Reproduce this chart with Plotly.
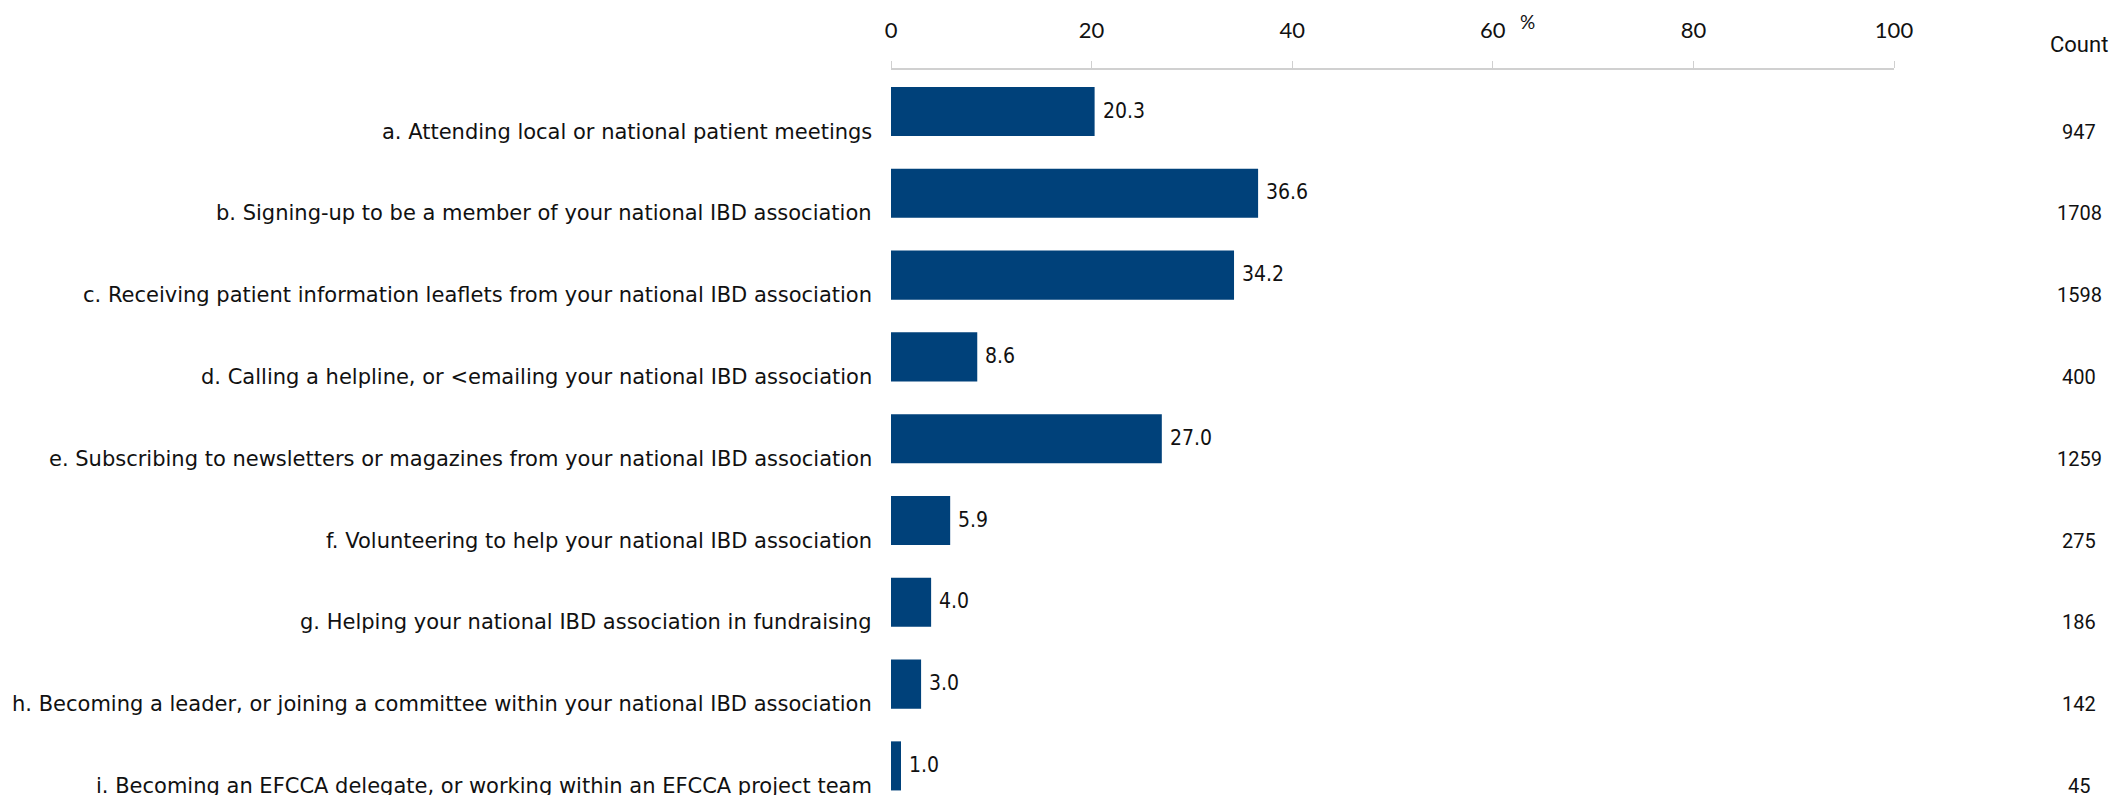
import plotly.graph_objects as go

categories = [
    "a. Attending local or national patient meetings",
    "b. Signing-up to be a member of your national IBD association",
    "c. Receiving patient information leaflets from your national IBD association",
    "d. Calling a helpline, or <emailing your national IBD association",
    "e. Subscribing to newsletters or magazines from your national IBD association",
    "f. Volunteering to help your national IBD association",
    "g. Helping your national IBD association in fundraising",
    "h. Becoming a leader, or joining a committee within your national IBD association",
    "i. Becoming an EFCCA delegate, or working within an EFCCA project team",
]
percent = [20.3, 36.6, 34.2, 8.6, 27.0, 5.9, 4.0, 3.0, 1.0]
counts = [947, 1708, 1598, 400, 1259, 275, 186, 142, 45]
tick_values = [0, 20, 40, 60, 80, 100]

W, H = 2123, 795
OFF = 8  # page body margin
L, T = 891 - OFF, 70 - OFF
plot_w = 1003
R = W - L - plot_w
B = 0
plot_h = H - T - B

BAR = "#00417a"
TXT = "#111111"
LABEL_FONT = "DejaVu Sans, Noto Sans, sans-serif"
VALUE_FONT = "DejaVu Sans Condensed, Noto Sans, sans-serif"

idx = list(range(len(categories)))

fig = go.Figure()
fig.add_trace(go.Bar(
    y=idx,
    x=percent,
    orientation="h",
    marker=dict(color=BAR, line=dict(width=0)),
    width=0.6,
    hoverinfo="skip",
))

count_x = (2079 - OFF - L) / plot_w
annotations = []
for i, (cat, c, p) in enumerate(zip(categories, counts, percent)):
    annotations.append(dict(
        x=0, xref="paper", y=i, yref="y", text=cat.replace("<", "&lt;"),
        xanchor="right", yanchor="middle", xshift=-17, yshift=-20,
        showarrow=False, font=dict(family=LABEL_FONT, size=21, color=TXT),
    ))
    annotations.append(dict(
        x=p, xref="x", y=i, yref="y", text=f"{p:.1f}",
        xanchor="left", yanchor="middle", xshift=6, yshift=1,
        showarrow=False, font=dict(family=VALUE_FONT, size=21, color=TXT),
    ))
    annotations.append(dict(
        x=count_x, xref="paper", y=i, yref="y", text=str(c),
        xanchor="center", yanchor="middle", yshift=-20,
        showarrow=False, font=dict(family="Roboto", size=20, color=TXT),
    ))

annotations.append(dict(
    x=count_x, xref="paper", y=1 + (T - (45 - OFF)) / plot_h, yref="paper",
    text="Count", xanchor="center", yanchor="middle", showarrow=False,
    font=dict(family="Roboto", size=22, color=TXT),
))
annotations.append(dict(
    x=(1527 - OFF - L) / plot_w, xref="paper", y=1 + T / plot_h, yref="paper",
    text="%", xanchor="center", yanchor="top", showarrow=False,
    font=dict(family="Lato", size=19, color=TXT),
))

px_per_cat = 81.8
top_val = -((111.5 - OFF) - T) / px_per_cat
bottom_val = top_val + plot_h / px_per_cat

fig.update_layout(
    width=W, height=H,
    margin=dict(l=L, r=R, t=T, b=B, pad=0),
    plot_bgcolor="white", paper_bgcolor="white",
    showlegend=False,
    annotations=annotations,
    xaxis=dict(
        side="top", range=[0, 100], tickvals=tick_values,
        showgrid=False, zeroline=False,
        showline=True, linecolor="#d0d0d0", linewidth=2,
        ticks="outside", ticklen=7, tickcolor="#d0d0d0", tickwidth=1,
        tickfont=dict(family="Lato", size=22, color=TXT),
        ticklabelstandoff=14,
        fixedrange=True,
    ),
    yaxis=dict(
        range=[bottom_val, top_val], showticklabels=False,
        showgrid=False, zeroline=False, showline=False, ticks="",
        fixedrange=True,
    ),
)

fig.write_html("out.html")
